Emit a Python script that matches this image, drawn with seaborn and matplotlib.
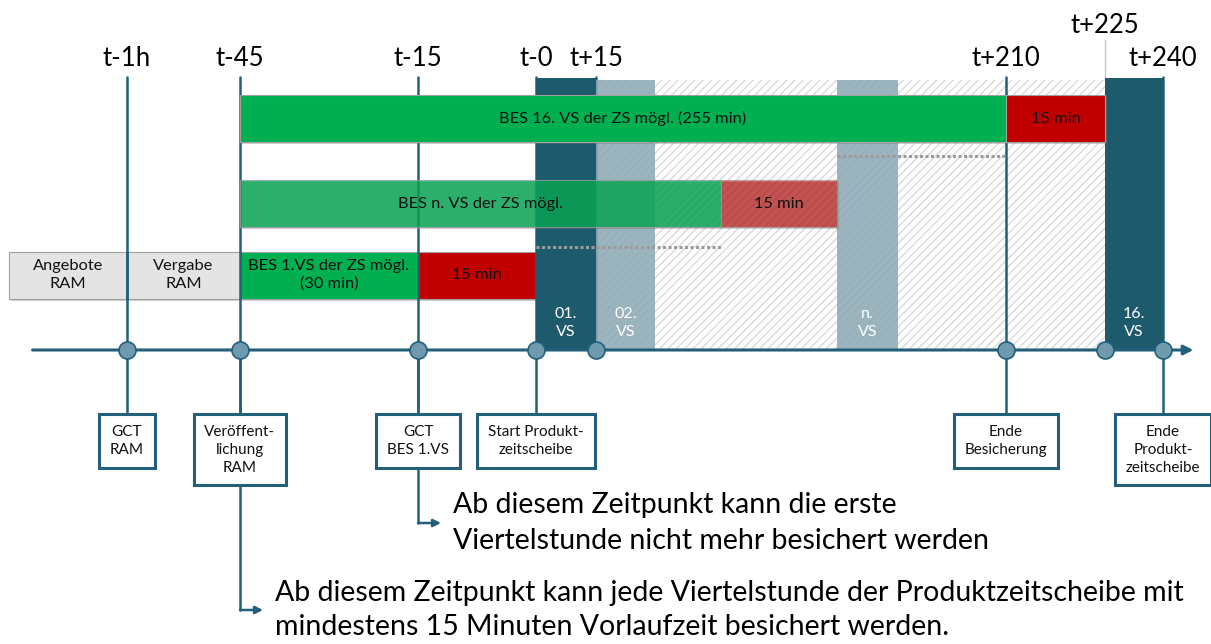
import numpy as np
import matplotlib
matplotlib.use("Agg")
import matplotlib.pyplot as plt
import matplotlib.patheffects as pe
import seaborn as sns

# time marks, minutes relative to the start of the product time slice
tick_labels = ["t-1h", "t-45", "t-15", "t-0", "t+15", "t+210", "t+225", "t+240"]
tick_minutes = [-60, -45, -15, 0, 15, 210, 225, 240]

# quarter hours (VS) of the time slice
vs_labels = ["01.\nVS", "02.\nVS", "n.\nVS", "16.\nVS"]
vs_start = [0, 15, 120, 225]
vs_end = [15, 30, 135, 240]
vs_dark = [True, False, False, True]

# bar rows (start / end in minutes)
row1_labels = ["BES 16. VS der ZS mögl. (255 min)", "15 min"]
row1_start = [-45, 210]
row1_end = [210, 225]

row2_labels = ["BES n. VS der ZS mögl.", "15 min"]
row2_start = [-45, 105]
row2_end = [105, 120]

row3_labels = ["Angebote\nRAM", "Vergabe\nRAM", "BES 1.VS der ZS mögl.\n(30 min)", "15 min"]
row3_start = [-75, -60, -45, -15]
row3_end = [-60, -45, -15, 0]

# dotted continuation lines (row 1, row 2)
dots_start = [120, 0]
dots_end = [210, 105]

# event boxes below the time axis
event_minutes = [-60, -45, -15, 0, 210, 240]
event_labels = ["GCT\nRAM", "Veröffent-\nlichung\nRAM", "GCT\nBES 1.VS",
                "Start Produkt-\nzeitscheibe", "Ende\nBesicherung",
                "Ende\nProdukt-\nzeitscheibe"]

note_minutes = [-15, -45]
note_texts = ["Ab diesem Zeitpunkt kann die erste\nViertelstunde nicht mehr besichert werden",
              "Ab diesem Zeitpunkt kann jede Viertelstunde der Produktzeitscheibe mit\n"
              "mindestens 15 Minuten Vorlaufzeit besichert werden."]

# ---- layout: the time axis is schematic, not linear ----
axis_min = [-76, -75, -60, -45, -15, 0, 15, 30, 105, 120, 135, 210, 225, 240, 270]
axis_px = [0, 9, 127, 240, 418, 536, 596, 655, 721, 837, 898, 1006, 1105, 1163, 1211]


def fwd(x):
    return np.interp(np.asarray(x, dtype=float), axis_min, axis_px)


def inv(p):
    return np.interp(np.asarray(p, dtype=float), axis_px, axis_min)


def mid(a, b):
    return float(inv((fwd(a) + fwd(b)) / 2))


TEAL = "#22607a"
TEAL_DARK = "#1d5a6c"
TEAL_LIGHT = "#8eaab5"
GREEN = "#00b050"
RED = "#c00000"
AXIS_Y = 350
BAR_H = 47
ROW_Y = [118.5, 203.5, 275]
BOX_TOP = 414

sns.set_theme(style="white")
plt.rcParams["font.family"] = ["Lato", "DejaVu Sans"]
plt.rcParams["hatch.linewidth"] = 1.0

fig = plt.figure(figsize=(12.11, 6.44), dpi=100)
ax = fig.add_axes([0, 0, 1, 1])
ax.set_xscale("function", functions=(fwd, inv))
ax.set_xlim(-76, 270)
ax.set_ylim(644, 0)
ax.axis("off")

shadow = [pe.withSimplePatchShadow(offset=(1.5, -1.5), shadow_rgbFace="#777777", alpha=0.35)]

# hatched time slice background
ax.barh(215, 225 - 15, left=15, height=270, color="white", edgecolor="#d9d9d9",
        hatch="////", lw=0, zorder=1)

# quarter hour blocks
for lab, s, e, dark in zip(vs_labels, vs_start, vs_end, vs_dark):
    top = 78 if dark else 80
    fc = TEAL_DARK if dark else TEAL_LIGHT
    ax.barh((top + AXIS_Y) / 2, e - s, left=s, height=AXIS_Y - top, color=fc,
            alpha=1 if dark else 0.88, lw=0, zorder=3)
    ax.text(mid(s, e), 323, lab, color="white", ha="center", va="center",
            fontsize=11.5, linespacing=1.45, zorder=9)

# vertical lines above the axis
for m in tick_minutes:
    if m == 225:
        ax.plot([m, m], [40, 80], color="#c8c8c8", lw=1, zorder=2)
    else:
        ax.plot([m, m], [77, AXIS_Y], color=TEAL, lw=1.8, zorder=2)

# vertical lines below the axis
for m in event_minutes:
    ax.plot([m, m], [AXIS_Y, BOX_TOP], color=TEAL, lw=1.8, zorder=2)


def draw_row(y, starts, ends, labels, colors, alpha, z):
    bars = ax.barh([y] * len(starts), np.subtract(ends, starts), left=starts,
                   height=BAR_H, color=colors, edgecolor="#a0a0a0", lw=0.8, zorder=z)
    for b, a in zip(bars, alpha):
        b.set_alpha(a)
        b.set_path_effects(shadow)
    for lab, s, e in zip(labels, starts, ends):
        ax.text(mid(s, e), y, lab, ha="center", va="center", fontsize=11.8,
                color="#111111", linespacing=1.3, zorder=z + 1)


draw_row(ROW_Y[0], row1_start, row1_end, row1_labels, [GREEN, RED], [1, 1], 4)
draw_row(ROW_Y[1], row2_start, row2_end, row2_labels, ["#00a650", "#b80000"], [0.78, 0.6], 5)
draw_row(ROW_Y[2], row3_start, row3_end, row3_labels,
         ["#e4e4e4", "#e4e4e4", GREEN, RED], [1, 1, 1, 1], 1.5)

# t-1h line over the grey boxes
ax.plot([-60, -60], [ROW_Y[2] - BAR_H / 2, ROW_Y[2] + BAR_H / 2], color=TEAL, lw=1.8, zorder=2)

for s, e, y in zip(dots_start, dots_end, [156, 247]):
    ax.plot([s, e], [y, y], color="#9c9c9c", lw=2.2, ls=(0, (1, 0.8)), zorder=6)

# time axis
ax.annotate("", xy=(259, AXIS_Y), xytext=(-72, AXIS_Y),
            arrowprops=dict(arrowstyle="-|>", color=TEAL, lw=2.2, mutation_scale=14,
                            shrinkA=0, shrinkB=0), zorder=6)
sns.scatterplot(x=tick_minutes, y=[AXIS_Y] * len(tick_minutes), s=150, color="#6f9aad",
                edgecolor=TEAL, linewidth=1.2, zorder=7, ax=ax, legend=False)

for lab, m in zip(tick_labels, tick_minutes):
    ax.text(m, 25 if lab == "t+225" else 58, lab, ha="center", va="center",
            fontsize=18.5, color="black", zorder=9)

# event boxes
for lab, m in zip(event_labels, event_minutes):
    ax.text(m, BOX_TOP + 11, lab, ha="center", va="top", fontsize=11, linespacing=1.35,
            color="#111111", zorder=9,
            bbox=dict(boxstyle="square,pad=0.7", fc="white", ec=TEAL, lw=2.2))

# notes with elbow arrows
for m, txt, y, ls in zip(note_minutes, note_texts, [523, 610], [1.45, 1.35]):
    ax.plot([m, m], [AXIS_Y, y], color=TEAL, lw=1.8, zorder=2)
    ax.annotate("", xy=(float(inv(fwd(m) + 23)), y), xytext=(m, y),
                arrowprops=dict(arrowstyle="-|>", color=TEAL, lw=1.8, mutation_scale=11,
                                shrinkA=0, shrinkB=0), zorder=6)
    ax.text(float(inv(fwd(m) + 35)), y, txt, ha="left", va="center", fontsize=20.5,
            linespacing=ls, color="black", zorder=9)

fig.savefig("out.png", dpi=100)
